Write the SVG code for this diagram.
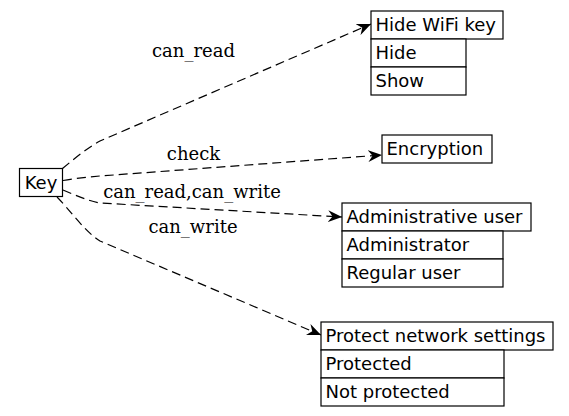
<svg xmlns="http://www.w3.org/2000/svg" width="569" height="416" viewBox="0 0 569 416">
<style>
  .box { fill: #ffffff; stroke: #000000; stroke-width: 1.2; }
  .nt { font-family: "DejaVu Sans", sans-serif; font-size: 18px; fill: #000000; }
  .el { font-family: "DejaVu Serif", serif; font-size: 18px; fill: #000000; text-anchor: middle; }
  .edge { fill: none; stroke: #000000; stroke-width: 1.2; stroke-dasharray: 9,5; marker-end: url(#vee); }
</style>
<defs>
  <marker id="vee" markerUnits="userSpaceOnUse" markerWidth="15" markerHeight="13" refX="14" refY="6.5" orient="auto" viewBox="0 0 15 13">
    <path d="M14,6.5 L0,0.5 L4.5,6.5 L0,12.5 Z" fill="#000000" stroke="none"/>
  </marker>
</defs>
<rect width="569" height="416" fill="#ffffff"/>
<g id="connectors">
  <path class="edge" d="M62.5,168.5 C74,159 87,148 100,141 L371,24"/>
  <path class="edge" d="M63,180.5 C75,178.5 88,177 100,176 L382,155"/>
  <path class="edge" d="M63,190 C75,195 88,201 100,203 L342,217"/>
  <path class="edge" d="M57,197 C70,210 85,232 100,241 L321,335"/>
  <text class="el" x="193.5" y="57">can_read</text>
  <text class="el" x="193.5" y="159.5">check</text>
  <text class="el" x="192" y="197.5">can_read,can_write</text>
  <text class="el" x="193" y="232.5">can_write</text>
</g>
<g id="key">
  <rect class="box" x="19.5" y="168.5" width="43" height="28"/>
  <text class="nt" x="41" y="188.5" text-anchor="middle">Key</text>
</g>
<g id="hide-wifi-key">
  <rect class="box" x="371" y="11" width="132" height="28"/>
  <rect class="box" x="371" y="39" width="95" height="28"/>
  <rect class="box" x="371" y="67" width="95" height="28"/>
  <text class="nt" x="375.5" y="31">Hide WiFi key</text>
  <text class="nt" x="375.5" y="59">Hide</text>
  <text class="nt" x="375.5" y="87">Show</text>
</g>
<g id="encryption">
  <rect class="box" x="382" y="135" width="110" height="28"/>
  <text class="nt" x="386.5" y="155">Encryption</text>
</g>
<g id="administrative-user">
  <rect class="box" x="342" y="203" width="189" height="28"/>
  <rect class="box" x="342" y="231" width="161" height="28"/>
  <rect class="box" x="342" y="259" width="161" height="28"/>
  <text class="nt" x="346.5" y="223">Administrative user</text>
  <text class="nt" x="346.5" y="251">Administrator</text>
  <text class="nt" x="346.5" y="279">Regular user</text>
</g>
<g id="protect-network-settings">
  <rect class="box" x="321" y="322" width="232" height="28"/>
  <rect class="box" x="321" y="350" width="183" height="28"/>
  <rect class="box" x="321" y="378" width="183" height="28"/>
  <text class="nt" x="325.5" y="342">Protect network settings</text>
  <text class="nt" x="325.5" y="370">Protected</text>
  <text class="nt" x="325.5" y="398">Not protected</text>
</g>
</svg>
